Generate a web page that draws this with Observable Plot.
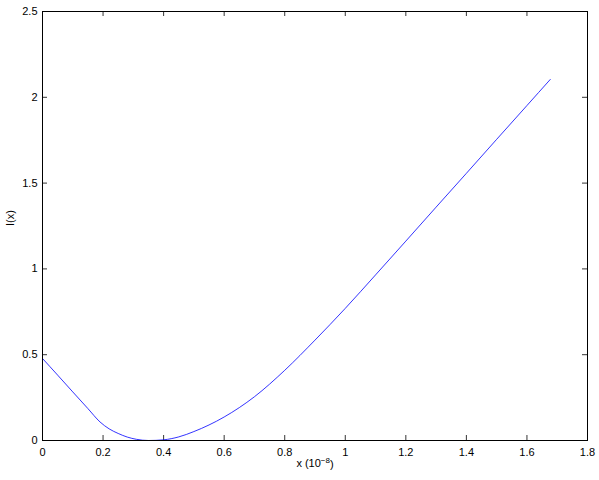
<!DOCTYPE html>
<html>
<head>
<meta charset="utf-8">
<script src="https://cdn.jsdelivr.net/npm/d3@7"></script>
<script src="https://cdn.jsdelivr.net/npm/@observablehq/plot@0.6"></script>
<style>
  html, body { margin: 0; padding: 0; background: white; }
</style>
</head>
<body>
<div id="chart"></div>
<script>
const xValues = [0, 0.05, 0.1, 0.15, 0.19, 0.22, 0.25, 0.28, 0.31, 0.35, 0.4, 0.45, 0.5, 0.6, 0.7, 0.8, 0.9, 1.0, 1.1, 1.2, 1.3, 1.4, 1.5, 1.6, 1.677];
const yValues = [0.478, 0.381, 0.283, 0.186, 0.108, 0.068, 0.041, 0.02, 0.007, 0.0, 0.004, 0.021, 0.052, 0.137, 0.255, 0.409, 0.585, 0.77, 0.965, 1.162, 1.36, 1.557, 1.755, 1.952, 2.104];
const xTicks = [0, 0.2, 0.4, 0.6, 0.8, 1, 1.2, 1.4, 1.6, 1.8];
const yTicks = [0, 0.5, 1, 1.5, 2, 2.5];
const xLabel = "x (10⁻⁸)";
const xLabelBase = "x (10";
const xLabelSup = "−8";
const xLabelEnd = ")";
const yLabel = "I(x)";

const data = xValues.map((x, i) => ({x, y: yValues[i]}));

const W = 599, H = 480, mL = 42, mR = 12, mT = 11, mB = 40;
const fw = W - mL - mR, fh = H - mT - mB, tl = 5;

function superscriptLabel(index, scales, values, dims, context, next) {
  const g = next(index, scales, values, dims, context);
  const t = g.querySelector("text");
  if (t) {
    const ns = "http://www.w3.org/2000/svg";
    t.textContent = xLabelBase;
    const sup = document.createElementNS(ns, "tspan");
    sup.setAttribute("dy", "-0.45em");
    sup.setAttribute("font-size", "8");
    sup.textContent = xLabelSup;
    const end = document.createElementNS(ns, "tspan");
    end.setAttribute("dy", "0.45em");
    end.textContent = xLabelEnd;
    t.appendChild(sup);
    t.appendChild(end);
  }
  return g;
}

const chart = Plot.plot({
  width: W, height: H,
  marginLeft: mL, marginRight: mR, marginTop: mT, marginBottom: mB,
  style: {fontFamily: "'Liberation Sans', Arial, sans-serif", fontSize: "11px", background: "white", color: "black"},
  x: {domain: [0, 1.8]},
  y: {domain: [0, 2.5]},
  marks: [
    Plot.tickX(xTicks, {x: d => d, insetTop: fh - tl, stroke: "black", strokeWidth: 0.8}),
    Plot.tickX(xTicks, {x: d => d, insetBottom: fh - tl, stroke: "black", strokeWidth: 0.8}),
    Plot.tickY(yTicks, {y: d => d, insetRight: fw - tl, stroke: "black", strokeWidth: 0.8}),
    Plot.tickY(yTicks, {y: d => d, insetLeft: fw - tl, stroke: "black", strokeWidth: 0.8}),
    Plot.axisX({ticks: xTicks, tickSize: 0, tickPadding: 8, label: null, tickFormat: d => String(d)}),
    Plot.axisY({ticks: yTicks, tickSize: 0, tickPadding: 5, label: null, tickFormat: d => String(d)}),
    Plot.line(data, {x: "x", y: "y", stroke: "#0000ff", strokeWidth: 0.8, curve: "monotone-x"}),
    Plot.frame({stroke: "black", strokeWidth: 1}),
    Plot.text([xLabel], {frameAnchor: "bottom", dy: 26, text: d => d, fill: "black", fontSize: 11, render: superscriptLabel}),
    Plot.text([yLabel], {frameAnchor: "left", dx: -32, rotate: -90, text: d => d, fill: "black", fontSize: 11})
  ]
});
document.getElementById("chart").appendChild(chart);
</script>
</body>
</html>
